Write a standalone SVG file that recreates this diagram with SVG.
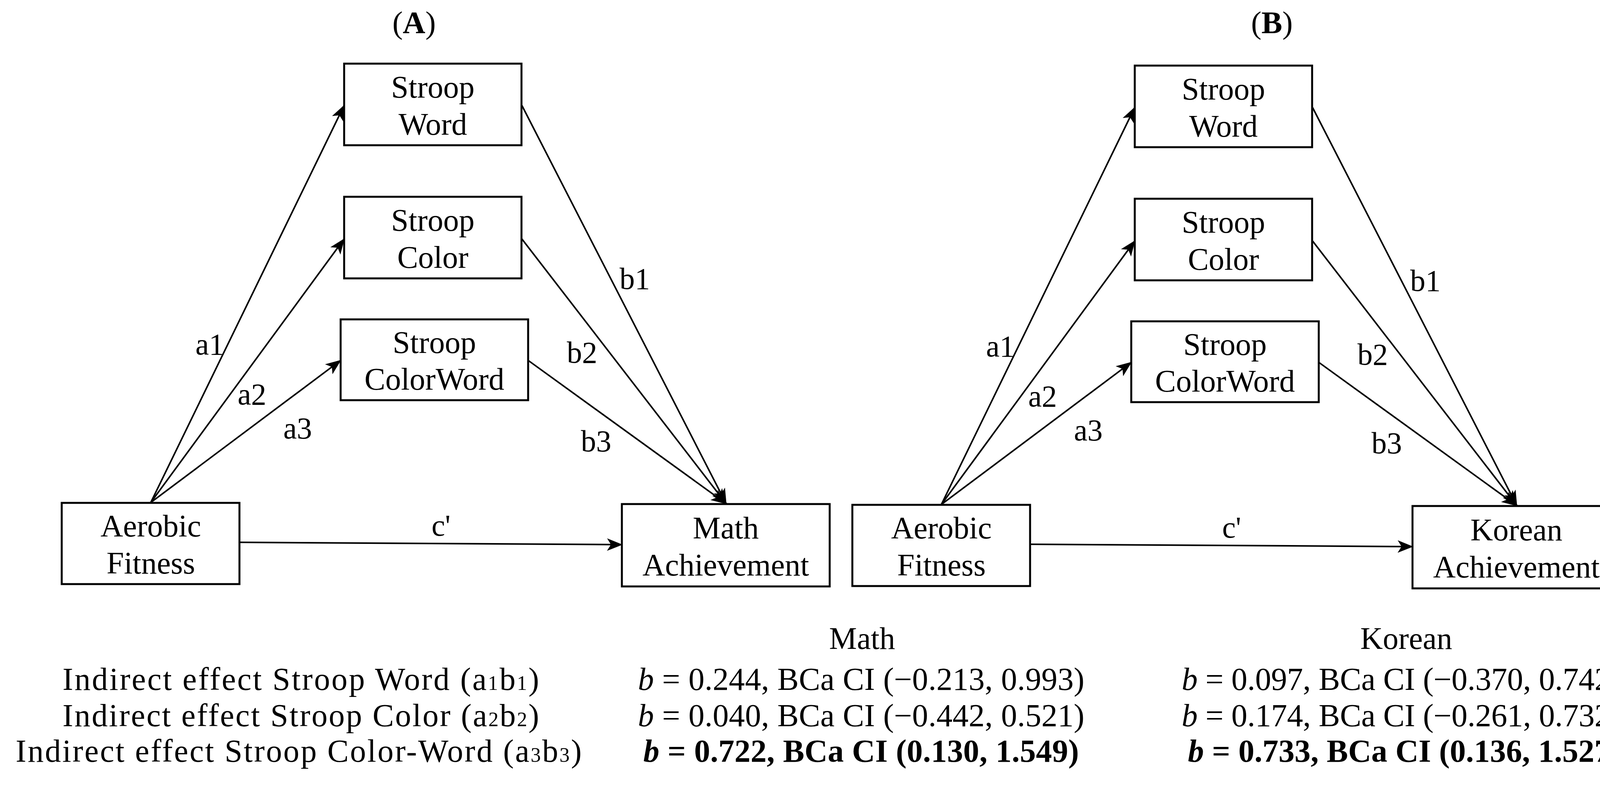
<svg xmlns="http://www.w3.org/2000/svg" width="4185" height="2049" viewBox="0 0 4185 2049">
<style>
text{font-family:"Liberation Serif","Times New Roman",serif;fill:#000}
.n{font-size:80px;text-anchor:middle}
.l{font-size:78px;text-anchor:middle}
.t{font-size:80px;text-anchor:middle}
.r{font-size:82px}
.box{fill:#fff;stroke:#000;stroke-width:5}
.c line{stroke:#000;stroke-width:4;marker-end:url(#arr)}
.s{font-size:52px}
</style>
<defs><marker id="arr" viewBox="0 0 20 16" refX="19" refY="8" markerWidth="40" markerHeight="32" markerUnits="userSpaceOnUse" orient="auto"><path d="M0,0 L20,8 L0,16 L5,8 Z" fill="#000"/></marker></defs>
<text x="1060" y="85" class="t">(<tspan font-weight="bold">A</tspan>)</text>
<text x="3256" y="85" class="t">(<tspan font-weight="bold">B</tspan>)</text>
<g id="panelA">
<g class="c" id="connA">
<line x1="386" y1="1287" x2="881" y2="270"/>
<line x1="386" y1="1287" x2="881" y2="612"/>
<line x1="386" y1="1287" x2="872" y2="923"/>
<line x1="1336" y1="270" x2="1859" y2="1290"/>
<line x1="1336" y1="612" x2="1859" y2="1290"/>
<line x1="1352" y1="923" x2="1859" y2="1290"/>
<line x1="613" y1="1389" x2="1592" y2="1395"/>
</g>
<g id="wA"><rect class="box" x="881" y="163" width="454" height="209"/><text class="n" x="1108" y="250">Stroop</text><text class="n" x="1108" y="345">Word</text></g>
<g id="cA"><rect class="box" x="881" y="504" width="454" height="209"/><text class="n" x="1108" y="591">Stroop</text><text class="n" x="1108" y="686">Color</text></g>
<g id="cwA"><rect class="box" x="872" y="818" width="480" height="207"/><text class="n" x="1112" y="904">Stroop</text><text class="n" x="1112" y="998">ColorWord</text></g>
<g id="afA"><rect class="box" x="158" y="1288" width="455" height="208"/><text class="n" x="386" y="1374">Aerobic</text><text class="n" x="386" y="1469">Fitness</text></g>
<g id="maA"><rect class="box" x="1592" y="1291" width="532" height="211"/><text class="n" x="1858" y="1379">Math</text><text class="n" x="1858" y="1474">Achievement</text></g>
<g id="labA">
<text class="l" x="537" y="908">a1</text><text class="l" x="645" y="1036">a2</text><text class="l" x="762" y="1123">a3</text>
<text class="l" x="1625" y="740">b1</text><text class="l" x="1490" y="929">b2</text><text class="l" x="1526" y="1156">b3</text>
<text class="l" x="1129" y="1372">c'</text>
</g>
</g>
<g id="panelB" transform="translate(2024,5)">
<g class="c" id="connB">
<line x1="386" y1="1287" x2="881" y2="270"/>
<line x1="386" y1="1287" x2="881" y2="612"/>
<line x1="386" y1="1287" x2="872" y2="923"/>
<line x1="1336" y1="270" x2="1859" y2="1290"/>
<line x1="1336" y1="612" x2="1859" y2="1290"/>
<line x1="1352" y1="923" x2="1859" y2="1290"/>
<line x1="613" y1="1389" x2="1592" y2="1395"/>
</g>
<g id="wB"><rect class="box" x="881" y="163" width="454" height="209"/><text class="n" x="1108" y="250">Stroop</text><text class="n" x="1108" y="345">Word</text></g>
<g id="cB"><rect class="box" x="881" y="504" width="454" height="209"/><text class="n" x="1108" y="591">Stroop</text><text class="n" x="1108" y="686">Color</text></g>
<g id="cwB"><rect class="box" x="872" y="818" width="480" height="207"/><text class="n" x="1112" y="904">Stroop</text><text class="n" x="1112" y="998">ColorWord</text></g>
<g id="afB"><rect class="box" x="158" y="1288" width="455" height="208"/><text class="n" x="386" y="1374">Aerobic</text><text class="n" x="386" y="1469">Fitness</text></g>
<g id="koB"><rect class="box" x="1592" y="1291" width="532" height="211"/><text class="n" x="1858" y="1379">Korean</text><text class="n" x="1858" y="1474">Achievement</text></g>
<g id="labB">
<text class="l" x="537" y="908">a1</text><text class="l" x="645" y="1036">a2</text><text class="l" x="762" y="1123">a3</text>
<text class="l" x="1625" y="740">b1</text><text class="l" x="1490" y="929">b2</text><text class="l" x="1526" y="1156">b3</text>
<text class="l" x="1129" y="1372">c'</text>
</g>
</g>
<g id="table">
<text class="t" x="2207" y="1662">Math</text>
<text class="t" x="3600" y="1662">Korean</text>
<text class="r" x="160" y="1767" textLength="1220">Indirect effect Stroop Word (a<tspan class="s">1</tspan>b<tspan class="s">1</tspan>)</text>
<text class="r" x="160" y="1860" textLength="1220">Indirect effect Stroop Color (a<tspan class="s">2</tspan>b<tspan class="s">2</tspan>)</text>
<text class="r" x="40" y="1951" textLength="1449">Indirect effect Stroop Color-Word (a<tspan class="s">3</tspan>b<tspan class="s">3</tspan>)</text>
<text class="r" x="1633" y="1767" textLength="1143"><tspan font-style="italic">b</tspan> = 0.244, BCa CI (−0.213, 0.993)</text>
<text class="r" x="1633" y="1860" textLength="1143"><tspan font-style="italic">b</tspan> = 0.040, BCa CI (−0.442, 0.521)</text>
<text class="r" x="1647" y="1951" textLength="1115" font-weight="bold"><tspan font-style="italic">b</tspan> = 0.722, BCa CI (0.130, 1.549)</text>
<text class="r" x="3025" y="1767" textLength="1125"><tspan font-style="italic">b</tspan> = 0.097, BCa CI (−0.370, 0.742)</text>
<text class="r" x="3025" y="1860" textLength="1125"><tspan font-style="italic">b</tspan> = 0.174, BCa CI (−0.261, 0.732)</text>
<text class="r" x="3041" y="1951" textLength="1109" font-weight="bold"><tspan font-style="italic">b</tspan> = 0.733, BCa CI (0.136, 1.527)</text>
</g>
</svg>
